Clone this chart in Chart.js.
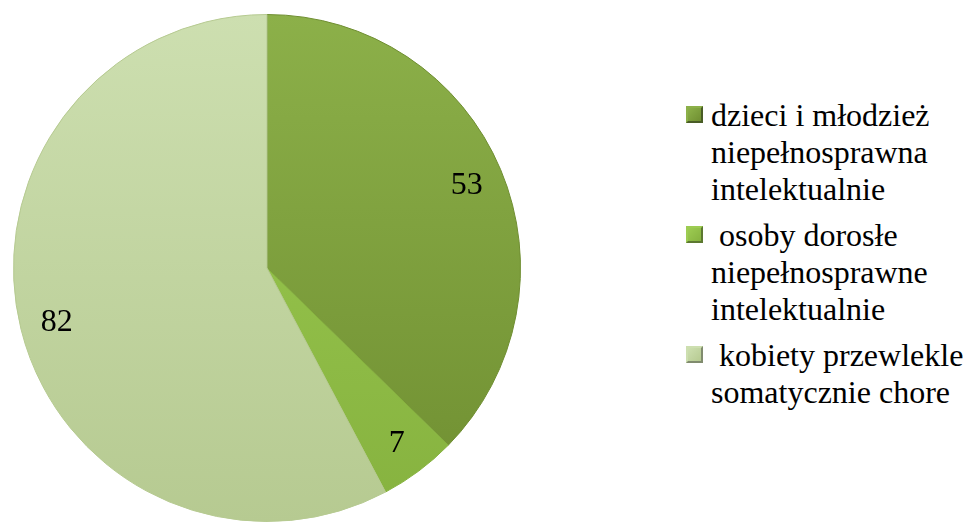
<!DOCTYPE html>
<html lang="pl">
<head>
<meta charset="UTF-8">
<title>Wykres kołowy</title>
<script src="https://cdn.jsdelivr.net/npm/chart.js"></script>
<style>
    html, body { margin: 0; padding: 0; background: #fff; }
    body { width: 966px; height: 522px; position: relative; overflow: hidden; font-family: "Liberation Serif", "DejaVu Serif", serif; }
    .pie-container { position: absolute; left: 0; top: 0; width: 534px; height: 522px; }
    #legend { position: absolute; left: 686px; top: 97px; margin: 0; padding: 0; list-style: none; }
    #legend li { position: relative; padding-left: 25px; margin-bottom: 9px; font-size: 32px; line-height: 37px; color: #000; white-space: nowrap; font-family: "Liberation Serif", "DejaVu Serif", serif; }
    #legend .marker { position: absolute; left: 0; top: 9px; width: 17px; height: 17px; box-sizing: border-box; }
</style>
</head>
<body>
<div class="pie-container"><canvas id="pie"></canvas></div>
<ul id="legend"></ul>

<script>
    // dane z wykresu
    const labels = [
        ['dzieci i młodzież', 'niepełnosprawna', 'intelektualnie'],
        ['\u00a0osoby dorosłe', 'niepełnosprawne', 'intelektualnie'],
        ['\u00a0kobiety przewlekle', 'somatycznie chore']
    ];
    const values = [53, 7, 82];

    // kolory: jasny (góra) i ciemny (dół) dla każdego wycinka
    const lightColors = ['#8cb049', '#9dcc52', '#cddfb0'];
    const darkColors = ['#6f8e31', '#86b23f', '#b6ca91'];

    const serif = '"Liberation Serif", "DejaVu Serif", serif';

    function sliceGradient(ctx, i) {
        const area = ctx.chart.chartArea;
        if (!area) return lightColors[i];
        const g = ctx.chart.ctx.createLinearGradient(0, area.top, 0, area.bottom);
        g.addColorStop(0, lightColors[i]);
        g.addColorStop(1, darkColors[i]);
        return g;
    }

    // etykiety wartości na wycinkach
    const valueLabels = {
        id: 'valueLabels',
        afterDatasetsDraw(chart) {
            const c = chart.ctx;
            const meta = chart.getDatasetMeta(0);
            c.save();
            c.font = '32px ' + serif;
            c.fillStyle = '#000';
            c.textAlign = 'center';
            c.textBaseline = 'middle';
            meta.data.forEach((arc, i) => {
                const p = arc.getProps(['x', 'y', 'startAngle', 'endAngle', 'outerRadius'], true);
                const mid = (p.startAngle + p.endAngle) / 2;
                const r = p.outerRadius * 0.855;
                c.fillText(String(values[i]), p.x + Math.cos(mid) * r, p.y + Math.sin(mid) * r + 2);
            });
            c.restore();
        }
    };

    function draw() {
        new Chart(document.getElementById('pie'), {
            type: 'pie',
            data: {
                labels: labels.map(l => l.join(' ')),
                datasets: [{
                    data: values,
                    backgroundColor: ctx => sliceGradient(ctx, ctx.dataIndex),
                    borderColor: darkColors.map(c => c),
                    borderWidth: 1
                }]
            },
            options: {
                responsive: true,
                maintainAspectRatio: false,
                animation: false,
                layout: { padding: { top: 14, bottom: 0, left: 12, right: 12 } },
                plugins: {
                    legend: { display: false },
                    tooltip: { enabled: false }
                }
            },
            plugins: [valueLabels]
        });
    }

    // legenda w HTML (etykiety wielowierszowe)
    const legend = document.getElementById('legend');
    labels.forEach((lines, i) => {
        const li = document.createElement('li');
        const m = document.createElement('span');
        m.className = 'marker';
        m.style.background = 'linear-gradient(135deg, ' + lightColors[i] + ', ' + darkColors[i] + ')';
        m.style.border = '2px outset ' + lightColors[i];
        li.appendChild(m);
        lines.forEach((t, k) => {
            if (k > 0) li.appendChild(document.createElement('br'));
            li.appendChild(document.createTextNode(t));
        });
        legend.appendChild(li);
    });

    if (document.fonts && document.fonts.load) {
        document.fonts.load('32px ' + serif).then(draw, draw);
    } else {
        draw();
    }
</script>
</body>
</html>
